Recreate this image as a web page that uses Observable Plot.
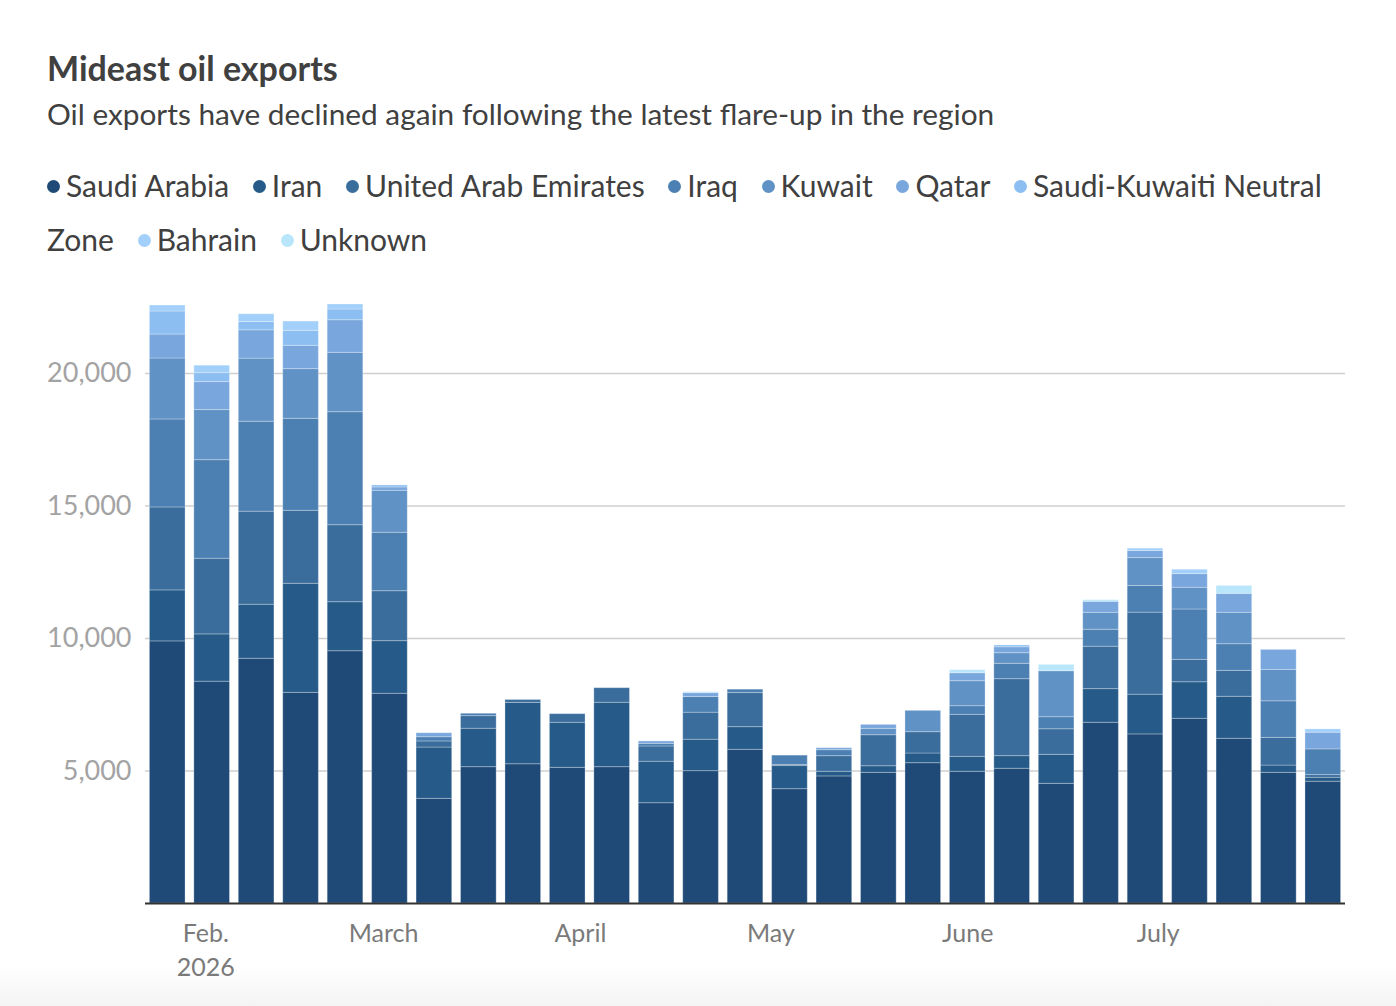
<!DOCTYPE html>
<html>
<head>
<meta charset="utf-8">
<script src="https://cdn.jsdelivr.net/npm/d3@7"></script>
<script src="https://cdn.jsdelivr.net/npm/@observablehq/plot@0.6"></script>
<style>
  html, body { margin: 0; padding: 0; background: #fff; }
  body { width: 1396px; height: 1006px; position: relative; overflow: hidden; font-family: Lato, "Noto Sans", sans-serif; color: #404040; }
  #title { position: absolute; left: 47px; top: 48px; font-size: 34px; font-weight: 700; line-height: 40px; color: #404040; }
  #subtitle { position: absolute; left: 47px; top: 96px; font-size: 29.8px; line-height: 36px; color: #404040; white-space: nowrap; }
  #legend { position: absolute; left: 47px; top: 158px; width: 1300px; font-size: 30px; line-height: 54px; color: #404040; }
  #legend .w { white-space: nowrap; }
  #legend .last { margin-right: 16px; }
  #legend .first::before { content: ""; display: inline-block; width: 13px; height: 13px; border-radius: 50%; margin-right: 6px; vertical-align: 4px; background: var(--c); }
  #chart { position: absolute; left: 0; top: 283px; }
  #fade { position: absolute; left: 0; right: 0; bottom: 0; height: 40px; background: linear-gradient(#ffffff, #f4f4f4); }
</style>
</head>
<body>
<div id="fade"></div>
<div id="title">Mideast oil exports</div>
<div id="subtitle">Oil exports have declined again following the latest flare-up in the region</div>
<div id="legend"></div>
<div id="chart"></div>
<script>
// Week dates (one bar per week)
const weeks = ["2026-01-26","2026-02-02","2026-02-09","2026-02-16","2026-02-23",
  "2026-03-02","2026-03-09","2026-03-16","2026-03-23","2026-03-30",
  "2026-04-06","2026-04-13","2026-04-20","2026-04-27",
  "2026-05-04","2026-05-11","2026-05-18","2026-05-25",
  "2026-06-01","2026-06-08","2026-06-15","2026-06-22","2026-06-29",
  "2026-07-06","2026-07-13","2026-07-20","2026-07-27"];

const countries = ["Saudi Arabia","Iran","United Arab Emirates","Iraq","Kuwait","Qatar","Saudi-Kuwaiti Neutral Zone","Bahrain","Unknown"];
const colors = ["#1f4a78","#265b89","#3a6c9c","#4c7fb2","#6192c5","#78a6dd","#8cbef2","#a2d0fa","#b9e6fb"];

// Series values
const saudiArabia = [9890,8370,9235,7950,9520,7915,3950,5145,5255,5120,5145,3785,4995,5800,4315,4795,4930,5295,4970,5085,4515,6820,6380,6970,6215,4930,4595];
const iran        = [1925,1785,2040,4115,1850,1985,1935,1450,2315,1700,2430,1565,1185,855,870,175,250,365,565,475,1095,1270,1500,1380,1585,275,150];
const uae         = [3130,2855,3510,2755,2905,1885,230,475,110,325,550,575,1020,1285,40,590,1170,805,1585,2905,965,1600,3095,845,980,1045,100];
const iraq        = [3320,3720,3395,3470,4265,2205,160,90,0,0,0,100,590,130,355,225,0,0,325,580,455,640,1005,1900,1005,1380,970];
const kuwait      = [2300,1890,2380,1875,2240,1585,0,0,0,0,0,0,0,0,0,0,240,805,945,400,1735,640,1055,820,1185,1185,0];
const qatar       = [905,1055,1070,880,1230,125,150,0,0,0,0,90,150,0,0,75,150,0,300,225,0,415,265,515,715,755,630];
const neutralZone = [870,340,315,565,405,75,0,0,0,0,0,0,0,0,0,0,0,0,0,65,0,0,0,0,0,0,0];
const bahrain     = [225,280,290,350,190,0,0,0,0,0,0,0,0,0,0,0,0,0,0,0,0,0,90,165,0,0,125];
const unknown     = [0,0,0,0,0,0,0,0,0,0,0,0,40,0,0,0,0,0,115,0,240,60,0,0,300,0,0];

const series = [saudiArabia, iran, uae, iraq, kuwait, qatar, neutralZone, bahrain, unknown];

// Axis ticks
const yTicks = [5000, 10000, 15000, 20000];
const xTickDates = ["2026-02-01","2026-03-01","2026-04-01","2026-05-01","2026-06-01","2026-07-01"];
const xTickLabels = ["Feb.\n2026","March","April","May","June","July"];

const DAY = 864e5;
const table = [];
countries.forEach((c, ci) => {
  weeks.forEach((w, wi) => {
    const v = series[ci][wi];
    if (v > 0) {
      const d = new Date(w + "T00:00:00Z");
      table.push({country: c, start: new Date(+d - 3.5 * DAY), end: new Date(+d + 3.5 * DAY), value: v});
    }
  });
});

const tickDates = xTickDates.map(s => new Date(s + "T00:00:00Z"));
const labelFor = new Map(tickDates.map((d, i) => [+d, xTickLabels[i]]));

const chart = Plot.plot({
  width: 1396,
  height: 710,
  marginLeft: 145,
  marginRight: 51,
  marginTop: 10.5,
  marginBottom: 90,
  style: {fontFamily: "Lato, 'Noto Sans', sans-serif", background: "transparent"},
  x: {type: "utc", domain: [new Date("2026-01-22T12:00:00Z"), new Date("2026-07-30T12:00:00Z")], label: null},
  y: {domain: [0, 23000], label: null},
  color: {domain: countries, range: colors},
  marks: [
    Plot.gridY(yTicks, {stroke: "#cfcfcf", strokeOpacity: 1, strokeWidth: 1.6}),
    Plot.rectY(table, Plot.stackY({
      x1: "start", x2: "end", y: "value", fill: "country",
      insetLeft: 4.4, insetRight: 4.4,
      stroke: "#ffffff", strokeOpacity: 0.28, strokeWidth: 1
    })),
    Plot.ruleY([0], {stroke: "#333", strokeWidth: 2}),
    Plot.axisY(yTicks, {tickSize: 0, tickPadding: 14, fontSize: 27, color: "#a3a3a3", label: null, tickFormat: d3.format(",")}),
    Plot.axisX(tickDates, {tickSize: 0, tickPadding: 15, fontSize: 25, color: "#7a7a7a", lineHeight: 1.34, label: null, tickFormat: d => labelFor.get(+d)})
  ]
});
document.getElementById("chart").appendChild(chart);

// Legend (HTML, above the SVG); each word is its own span so wrapping happens between spans
const legend = document.getElementById("legend");
countries.forEach((c, i) => {
  const words = c.split(" ");
  words.forEach((w, j) => {
    const s = document.createElement("span");
    s.className = "w" + (j === 0 ? " first" : "") + (j === words.length - 1 ? " last" : "");
    if (j === 0) s.style.setProperty("--c", colors[i]);
    s.textContent = w;
    legend.appendChild(s);
    legend.appendChild(document.createTextNode(" "));
  });
});
</script>
</body>
</html>
